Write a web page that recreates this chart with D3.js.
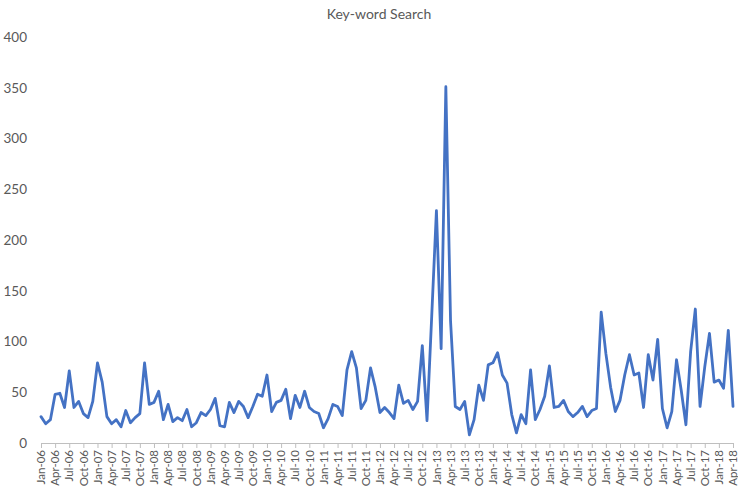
<!DOCTYPE html>
<html>
<head>
<meta charset="utf-8">
<script src="https://cdn.jsdelivr.net/npm/d3@7"></script>
<style>
  body { margin: 0; background: #fff; }
  text { font-family: Lato, "Open Sans", sans-serif; fill: #595959; }
</style>
</head>
<body>
<div id="chart"></div>
<script>
// monthly values, Jan-06 .. Apr-18
const searchValues = [
  26, 19, 23, 48, 49, 35, 71, 35, 41, 29, 25, 41,
  79, 60, 26, 19, 23, 16, 32, 20, 25, 29, 79, 38,
  40, 51, 23, 38, 21, 25, 22, 33, 16, 20, 30, 27,
  33, 44, 17, 16, 40, 30, 41, 36, 25, 36, 48, 46,
  67, 31, 40, 42, 53, 24, 47, 35, 51, 35, 31, 29,
  15, 24, 38, 36, 27, 72, 90, 74, 34, 42, 74, 55,
  30, 35, 30, 24, 57, 39, 42, 33, 41, 96, 22, 125,
  229, 93, 351, 120, 36, 33, 41, 8, 23, 57, 42, 77,
  79, 89, 67, 59, 28, 10, 28, 19, 72, 23, 33, 46,
  76, 35, 36, 42, 31, 26, 30, 36, 26, 32, 34, 129,
  88, 55, 31, 42, 67, 87, 67, 69, 35, 87, 62, 102,
  34, 15, 31, 82, 52, 18, 90, 132, 36, 75, 108, 60,
  62, 54, 111, 36
];

// one label every third month
const tickLabels = [
  "Jan-06", "Apr-06", "Jul-06", "Oct-06", "Jan-07", "Apr-07", "Jul-07", "Oct-07",
  "Jan-08", "Apr-08", "Jul-08", "Oct-08", "Jan-09", "Apr-09", "Jul-09", "Oct-09",
  "Jan-10", "Apr-10", "Jul-10", "Oct-10", "Jan-11", "Apr-11", "Jul-11", "Oct-11",
  "Jan-12", "Apr-12", "Jul-12", "Oct-12", "Jan-13", "Apr-13", "Jul-13", "Oct-13",
  "Jan-14", "Apr-14", "Jul-14", "Oct-14", "Jan-15", "Apr-15", "Jul-15", "Oct-15",
  "Jan-16", "Apr-16", "Jul-16", "Oct-16", "Jan-17", "Apr-17", "Jul-17", "Oct-17",
  "Jan-18", "Apr-18"
];

const yTicks = [0, 50, 100, 150, 200, 250, 300, 350, 400];
const chartTitle = "Key-word Search";

const width = 738, height = 487;
const margin = {top: 37, right: 5, bottom: 44, left: 41};

const svg = d3.select("#chart").append("svg")
  .attr("width", width)
  .attr("height", height);

const x = d3.scaleLinear()
  .domain([0, searchValues.length - 1])
  .range([margin.left, width - margin.right]);

const y = d3.scaleLinear()
  .domain([0, 400])
  .range([height - margin.bottom, margin.top]);

svg.append("text")
  .attr("x", 379)
  .attr("y", 19)
  .attr("text-anchor", "middle")
  .style("font-size", "14px")
  .text(chartTitle);

// y axis: labels only
const yAxis = svg.append("g")
  .attr("transform", "translate(" + (margin.left - 14) + ",0)")
  .call(d3.axisLeft(y).tickValues(yTicks).tickSize(0).tickPadding(0));
yAxis.select(".domain").remove();
yAxis.selectAll("text")
  .style("font-size", "13.5px")
  .style("font-family", "Lato, 'Open Sans', sans-serif")
  .attr("fill", "#595959");

// x axis
const xAxis = svg.append("g")
  .attr("transform", "translate(0," + y(0) + ")")
  .call(d3.axisBottom(x)
    .tickValues(d3.range(0, searchValues.length, 3))
    .tickFormat((d, i) => tickLabels[i])
    .tickSizeOuter(0)
    .tickSize(5));
xAxis.select(".domain").attr("stroke", "#bfbfbf").attr("stroke-width", 1);
xAxis.selectAll(".tick line").attr("stroke", "#bfbfbf");
xAxis.selectAll("text")
  .style("font-size", "11.5px")
  .style("font-family", "Lato, 'Open Sans', sans-serif")
  .attr("fill", "#595959")
  .attr("text-anchor", "end")
  .attr("transform", "rotate(-90)")
  .attr("x", -7)
  .attr("y", 0)
  .attr("dy", "0.32em");

const line = d3.line()
  .x((d, i) => x(i))
  .y(d => y(d));

svg.append("path")
  .datum(searchValues)
  .attr("fill", "none")
  .attr("stroke", "#4472c4")
  .attr("stroke-width", 2.8)
  .attr("stroke-linejoin", "round")
  .attr("stroke-linecap", "round")
  .attr("d", line);
</script>
</body>
</html>
